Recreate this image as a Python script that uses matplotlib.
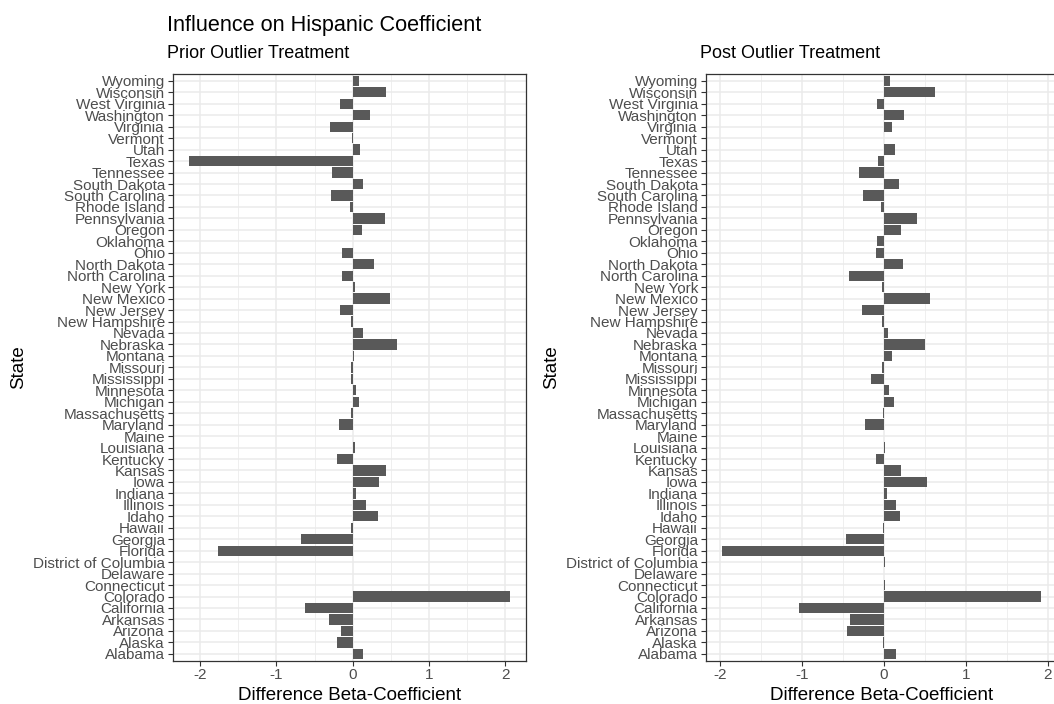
import numpy as np
import matplotlib
matplotlib.use('Agg')
import matplotlib.pyplot as plt
from matplotlib.ticker import MultipleLocator

plt.rcParams['font.family'] = ['Liberation Sans', 'DejaVu Sans']
plt.rcParams['axes.unicode_minus'] = False

states = ['Alabama', 'Alaska', 'Arizona', 'Arkansas', 'California', 'Colorado',
          'Connecticut', 'Delaware', 'District of Columbia', 'Florida', 'Georgia',
          'Hawaii', 'Idaho', 'Illinois', 'Indiana', 'Iowa', 'Kansas', 'Kentucky',
          'Louisiana', 'Maine', 'Maryland', 'Massachusetts', 'Michigan', 'Minnesota',
          'Mississippi', 'Missouri', 'Montana', 'Nebraska', 'Nevada', 'New Hampshire',
          'New Jersey', 'New Mexico', 'New York', 'North Carolina', 'North Dakota',
          'Ohio', 'Oklahoma', 'Oregon', 'Pennsylvania', 'Rhode Island',
          'South Carolina', 'South Dakota', 'Tennessee', 'Texas', 'Utah', 'Vermont',
          'Virginia', 'Washington', 'West Virginia', 'Wisconsin', 'Wyoming']

prior = [0.135, -0.21, -0.15, -0.31, -0.62, 2.06, 0.01, 0.003, 0.01, -1.76,
         -0.68, -0.02, 0.33, 0.18, 0.04, 0.35, 0.44, -0.21, 0.03, 0.005,
         -0.18, -0.02, 0.08, 0.05, -0.02, -0.02, 0.02, 0.58, 0.13, -0.02,
         -0.17, 0.49, 0.03, -0.14, 0.28, -0.14, 0.01, 0.12, 0.42, -0.03,
         -0.28, 0.13, -0.27, -2.15, 0.10, -0.01, -0.30, 0.23, -0.16, 0.44, 0.09]

post = [0.15, -0.01, -0.45, -0.41, -1.03, 1.92, 0.01, 0.003, 0.01, -1.98,
        -0.46, -0.015, 0.20, 0.15, 0.035, 0.53, 0.21, -0.09, 0.015, 0.005,
        -0.23, -0.015, 0.12, 0.06, -0.16, -0.02, 0.105, 0.50, 0.05, -0.025,
        -0.27, 0.57, -0.025, -0.42, 0.23, -0.09, -0.08, 0.21, 0.40, -0.03,
        -0.26, 0.19, -0.30, -0.07, 0.14, 0.0, 0.10, 0.25, -0.08, 0.63, 0.07]

W, H = 1054, 704
fig = plt.figure(figsize=(W / 100, H / 100), dpi=100)

def px(x0, y0, x1, y1):
    return [x0 / W, 1 - y1 / H, (x1 - x0) / W, (y1 - y0) / H]

panels = [(prior, 'Prior Outlier Treatment', px(172.7, 74, 525.7, 660.7)),
          (post, 'Post Outlier Treatment', px(705.7, 74, 1057, 660.7))]

for vals, sub, pos in panels:
    ax = fig.add_axes(pos)
    y = np.arange(len(states))
    ax.barh(y, vals, height=0.9, color='#595959', zorder=3)
    # ggplot-style 5% expansion of the data range
    lo, hi = min(vals), max(vals)
    pad = (hi - lo) * 0.05
    ax.set_xlim(lo - pad, hi + pad)
    ax.set_ylim(-0.6, len(states) - 0.4)
    ax.set_yticks(y)
    ax.set_yticklabels(states)
    ax.xaxis.set_major_locator(MultipleLocator(1))
    ax.xaxis.set_minor_locator(MultipleLocator(0.5))
    ax.grid(which='major', color='#EBEBEB', lw=1.1, zorder=0)
    ax.grid(which='minor', axis='x', color='#EBEBEB', lw=0.55, zorder=0)
    ax.tick_params(which='minor', length=0)
    ax.tick_params(which='major', length=3.8, width=0.8, color='#333333',
                   labelcolor='#4D4D4D', labelsize=11, pad=1.8)
    for s in ax.spines.values():
        s.set_color('#333333')
        s.set_linewidth(0.9)
    ax.set_axisbelow(True)
    ax.set_xlabel('Difference Beta-Coefficient', fontsize=13.5, labelpad=3)
    ax.set_ylabel('State', fontsize=13.5, labelpad=4)
    fig.text(pos[0] - 6 / W, 1 - 54 / H, sub, fontsize=13, va='center', ha='left')

fig.text(167 / W, 1 - 25 / H, 'Influence on Hispanic Coefficient', fontsize=15.6,
         va='center', ha='left')

fig.savefig('out.png', dpi=100)
